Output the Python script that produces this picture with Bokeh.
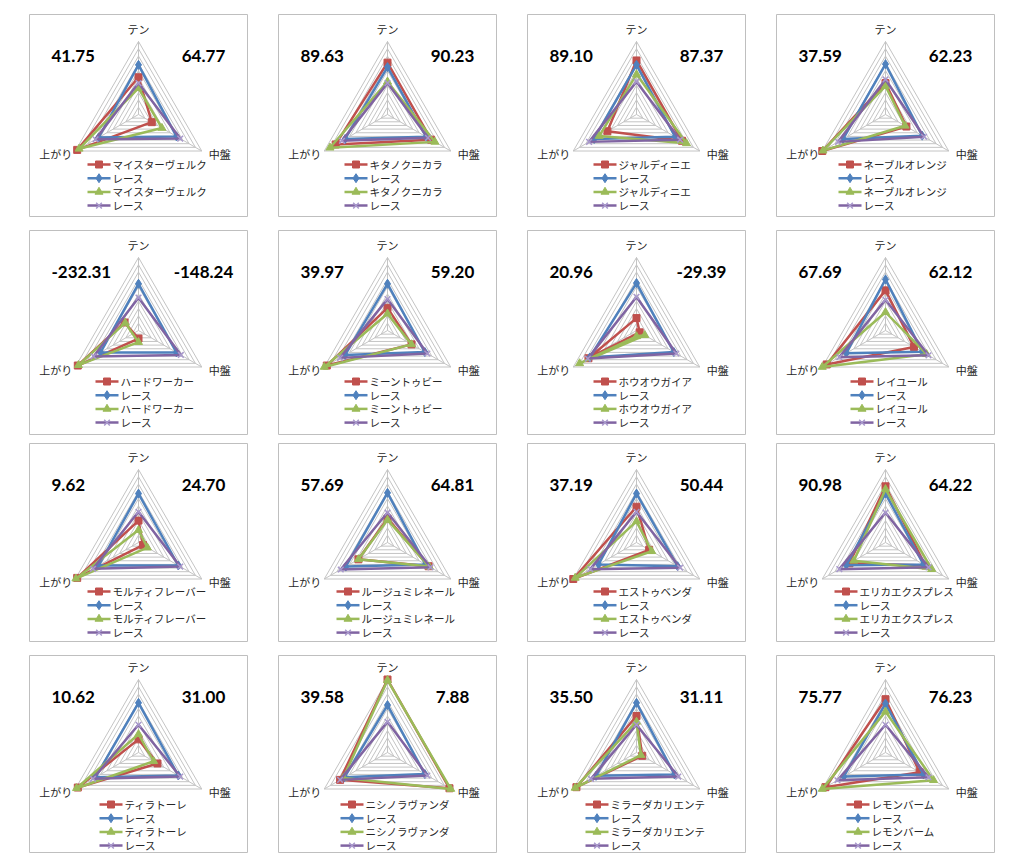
import math
from bokeh.plotting import figure
from bokeh.models import Range1d
from bokeh.core.properties import value
from bokeh.embed import file_html
from bokeh.resources import INLINE

# ---------------- data ----------------
axis_labels = ["テン", "中盤", "上がり"]
race_label = "レース"
horses = ["マイスターヴェルク", "キタノクニカラ", "ジャルディニエ", "ネーブルオレンジ",
          "ハードワーカー", "ミーントゥビー", "ホウオウガイア", "レイユール",
          "モルティフレーバー", "ルージュミレネール", "エストゥベンダ", "エリカエクスプレス",
          "ティラトーレ", "ニシノラヴァンダ", "ミラーダカリエンテ", "レモンバーム"]
score_left = ["41.75", "89.63", "89.10", "37.59", "-232.31", "39.97", "20.96", "67.69",
              "9.62", "57.69", "37.19", "90.98", "10.62", "39.58", "35.50", "75.77"]
score_right = ["64.77", "90.23", "87.37", "62.23", "-148.24", "59.20", "-29.39", "62.12",
               "24.70", "64.81", "50.44", "64.22", "31.00", "7.88", "31.11", "76.23"]
# values per panel: [テン, 中盤, 上がり]
horse_a = [[51, 21, 97], [71, 69, 82], [74, 72, 46], [43, 33, 100],
           [-11, -22, 96], [31, 38, 96], [17, 5, 76], [55, 45, 93],
           [30, 7, 97], [33, 65, 46], [49, 20, 100], [77, 63, 57],
           [18, 30, 96], [100, 98, 75], [50, 9, 95], [73, 54, 95]]
race_a = [[68, 60, 63], [65, 61, 67], [68, 61, 67], [69, 58, 67],
          [64, 60, 60], [64, 59, 67], [65, 59, 74], [70, 58, 62],
          [67, 63, 63], [68, 60, 66], [67, 65, 60], [67, 60, 62],
          [68, 63, 68], [65, 59, 68], [68, 60, 64], [67, 60, 66]]
horse_b = [[36, 37, 94], [45, 75, 91], [55, 79, 59], [39, 31, 99],
           [-16, -21, 95], [23, 38, 100], [-8, 13, 90], [25, 65, 100],
           [17, 14, 99], [31, 66, 46], [29, 24, 97], [73, 73, 50],
           [25, 24, 98], [99, 100, 70], [42, 7, 97], [56, 76, 100]]
race_b = [[43, 66, 68], [43, 64, 72], [45, 69, 75], [48, 61, 75],
          [45, 67, 71], [43, 63, 75], [46, 63, 77], [42, 68, 73],
          [42, 66, 72], [41, 68, 74], [42, 69, 73], [41, 68, 73],
          [38, 66, 72], [42, 63, 75], [38, 66, 72], [38, 68, 76]]
axis_max = 100
ring_step = 10

# ---------------- layout / style ----------------
W, H = 1024, 866
col_x = [29, 278, 527, 776]
row_y = [14, 230, 443, 655]
row_h = [202, 204, 198, 197]
panel_w = 218
center_dx = 109
center_dy = [100, 100, 99, 97]
legend_dy = [150, 151, 148, 149]
legend_step = 13.7
R = 73.0
angles = [90, -30, 210]
colors = ["#C0504D", "#4F81BD", "#9BBB59", "#8064A2"]
markers = ["square", "diamond", "triangle", "x"]
msizes = [7, 9, 8, 8]
JP = value("Noto Sans CJK JP")
TXT = "#262626"

p = figure(width=W, height=H, x_range=Range1d(0, W), y_range=Range1d(H, 0),
           output_backend="svg", toolbar_location=None, min_border=0,
           x_axis_type=None, y_axis_type=None, background_fill_color="white",
           border_fill_color="white", outline_line_color=None)
p.xgrid.visible = False
p.ygrid.visible = False


def pt(cx, cy, r, ang):
    a = math.radians(ang)
    return cx + r / axis_max * R * math.cos(a), cy - r / axis_max * R * math.sin(a)


for i, name in enumerate(horses):
    row, col = divmod(i, 4)
    px, py = col_x[col], row_y[row]
    ph = row_h[row]
    cx, cy = px + center_dx, py + center_dy[row]

    # panel border
    p.quad(left=[px], right=[px + panel_w], top=[py], bottom=[py + ph],
           fill_color="white", line_color="#bfbfbf", line_width=1)

    # rings and spokes
    xs, ys = [], []
    for k in range(1, axis_max // ring_step + 1):
        pts = [pt(cx, cy, k * ring_step, a) for a in angles + [angles[0]]]
        xs.append([q[0] for q in pts])
        ys.append([q[1] for q in pts])
    for a in angles:
        q = pt(cx, cy, axis_max, a)
        xs.append([cx, q[0]])
        ys.append([cy, q[1]])
    p.multi_line(xs, ys, line_color="#c4c4c4", line_width=1)

    # axis labels
    tx, ty = pt(cx, cy, axis_max, 90)
    p.text([tx], [ty - 13], text=[axis_labels[0]], text_font=JP, text_font_size="11px",
           text_align="center", text_baseline="middle", text_color=TXT)
    rx, ry = pt(cx, cy, axis_max, -30)
    p.text([rx + 7], [ry + 3], text=[axis_labels[1]], text_font=JP, text_font_size="11px",
           text_align="left", text_baseline="middle", text_color=TXT)
    lx, ly = pt(cx, cy, axis_max, 210)
    p.text([lx - 3], [ly + 3], text=[axis_labels[2]], text_font=JP, text_font_size="11px",
           text_align="right", text_baseline="middle", text_color=TXT)

    # scores
    p.text([px + 22], [py + 41], text=[score_left[i]], text_font=value("Lato"),
           text_font_size="17px", text_font_style="bold", text_align="left",
           text_baseline="middle", text_color="black")
    p.text([px + 174], [py + 41], text=[score_right[i]], text_font=value("Lato"),
           text_font_size="17px", text_font_style="bold", text_align="center",
           text_baseline="middle", text_color="black")

    # series
    series = [horse_a[i], race_a[i], horse_b[i], race_b[i]]
    for s, vals in enumerate(series):
        pts = [pt(cx, cy, v, a) for v, a in zip(vals, angles)]
        lxs = [q[0] for q in pts] + [pts[0][0]]
        lys = [q[1] for q in pts] + [pts[0][1]]
        p.line(lxs, lys, line_color=colors[s], line_width=2.5, line_join="round")
        if markers[s] == "x":
            p.scatter([q[0] for q in pts], [q[1] for q in pts], marker="x",
                      size=msizes[s], line_color="#a898cc", line_width=1.5)
        else:
            p.scatter([q[0] for q in pts], [q[1] for q in pts], marker=markers[s],
                      size=msizes[s], fill_color=colors[s], line_color=colors[s])

    # legend
    labels = [name, race_label, name, race_label]
    x0 = px + 94 - 4 * len(name)
    for s, lab in enumerate(labels):
        yy = py + legend_dy[row] + s * legend_step
        p.line([x0, x0 + 23], [yy, yy], line_color=colors[s], line_width=2.5)
        if markers[s] == "x":
            p.scatter([x0 + 11.5], [yy], marker="x", size=msizes[s],
                      line_color="#a898cc", line_width=1.5)
        else:
            p.scatter([x0 + 11.5], [yy], marker=markers[s], size=msizes[s],
                      fill_color=colors[s], line_color=colors[s])
        p.text([x0 + 25], [yy], text=[lab], text_font=JP, text_font_size="10.5px",
               text_align="left", text_baseline="middle", text_color=TXT)

open("out.html", "w").write(file_html(p, INLINE))
